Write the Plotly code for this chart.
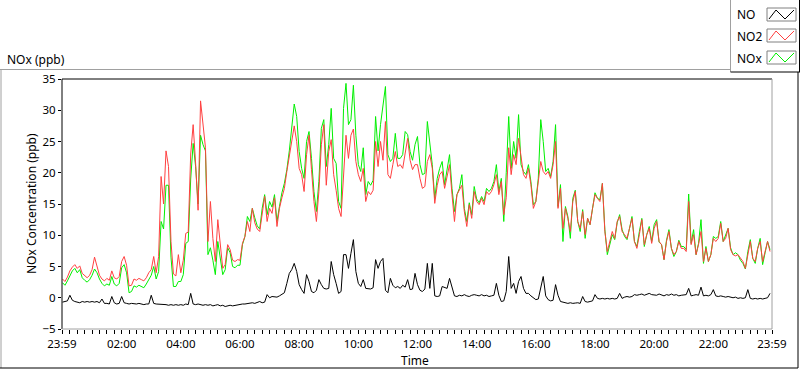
import plotly.graph_objects as go
import pandas as pd

# ---- data (5-minute samples, 00:00 .. 23:55) ----
start_time = "2000-01-01 00:00"
n_samples = 288

no2 = [
    3.0, 2.6, 3.3, 4.3, 4.9, 5.3, 4.7, 5.1, 3.9, 3.5, 3.2, 3.6,
    4.5, 6.5, 5.0, 3.6, 3.0, 2.7, 3.1, 2.8, 4.3, 3.2, 3.0, 3.4,
    5.8, 6.6, 5.2, 1.9, 2.0, 3.0, 2.8, 3.1, 2.9, 2.7, 3.2, 4.0,
    4.5, 6.6, 4.0, 6.6, 19.4, 15.0, 23.5, 21.0, 9.0, 3.8, 3.5, 6.9,
    4.0, 6.0, 10.3, 10.5, 23.0, 27.7, 21.5, 14.0, 31.5, 28.0, 24.0, 9.0,
    15.4, 9.5, 5.8, 12.5, 8.0, 4.7, 5.3, 8.5, 7.7, 6.0, 5.8, 6.1,
    6.0, 8.7, 9.8, 12.2, 10.6, 14.3, 12.0, 11.0, 10.6, 13.3, 16.2, 12.2,
    14.3, 13.5, 16.0, 11.4, 14.3, 16.0, 17.5, 20.2, 22.9, 25.5, 27.5, 25.0,
    20.7, 19.7, 17.0, 22.9, 26.0, 20.5, 15.4, 12.2, 17.0, 24.5, 27.7, 18.0,
    23.4, 25.3, 19.7, 17.2, 14.3, 13.0, 20.0, 26.0, 22.3, 26.0, 27.0, 21.8,
    19.7, 18.6, 20.7, 15.4, 17.0, 16.5, 17.2, 25.0, 21.0, 25.0, 22.0, 28.2,
    19.7, 19.1, 21.3, 23.4, 21.0, 21.3, 20.7, 22.9, 25.5, 22.0, 20.5, 21.3,
    21.3, 19.1, 17.5, 17.8, 21.8, 22.9, 20.7, 15.1, 18.0, 19.7, 20.2, 17.5,
    19.7, 21.3, 16.5, 12.2, 16.5, 17.2, 18.0, 13.8, 11.4, 14.9, 12.7, 17.0,
    15.4, 14.9, 15.9, 14.9, 17.0, 16.5, 17.0, 18.1, 19.7, 16.5, 18.6, 13.3,
    16.0, 24.0, 19.7, 22.9, 21.3, 25.5, 22.3, 19.7, 19.1, 20.7, 18.1, 14.3,
    15.4, 18.6, 21.8, 20.2, 19.7, 20.2, 19.1, 21.3, 25.0, 14.3, 17.5, 11.1,
    14.3, 12.7, 10.6, 15.4, 17.0, 12.2, 11.1, 13.8, 10.1, 12.7, 11.7, 14.3,
    16.5, 15.9, 15.4, 18.3, 10.6, 7.4, 9.0, 10.6, 9.5, 12.2, 13.0, 10.6,
    10.1, 9.5, 11.1, 12.7, 9.0, 7.9, 10.1, 12.5, 8.5, 10.1, 11.1, 8.7,
    11.1, 12.2, 9.0, 8.5, 6.1, 9.0, 10.6, 7.9, 6.9, 7.4, 9.0, 7.9,
    7.9, 7.4, 15.4, 8.5, 10.1, 6.9, 8.5, 10.6, 5.8, 7.9, 5.8, 6.9,
    9.5, 9.0, 9.5, 11.9, 9.0, 9.5, 11.1, 7.7, 6.9, 6.7, 6.9, 6.3,
    5.8, 4.7, 6.9, 9.0, 6.3, 5.8, 7.9, 9.0, 5.8, 7.4, 9.0, 7.4,
]

nox = [
    2.4, 2.0, 2.7, 3.6, 4.3, 4.7, 4.0, 4.5, 3.2, 2.8, 2.5, 2.9,
    3.6, 4.6, 4.0, 3.0, 2.3, 1.9, 2.2, 2.0, 3.4, 2.2, 1.9, 2.3,
    4.8, 5.3, 4.0, 0.8, 1.0, 1.9, 1.7, 2.0, 1.8, 1.6, 2.2, 3.0,
    3.6, 5.0, 3.0, 4.2, 12.2, 11.0, 18.0, 18.0, 6.5, 1.8, 1.8, 2.6,
    2.6, 3.7, 8.7, 9.0, 19.0, 24.7, 21.0, 15.0, 26.0, 24.5, 23.5, 6.9,
    8.0, 6.0, 3.7, 9.0, 6.0, 3.7, 4.5, 8.0, 7.2, 5.0, 4.8, 5.2,
    5.2, 8.5, 9.8, 13.0, 12.2, 14.3, 12.8, 11.5, 11.0, 14.3, 16.5, 13.3,
    15.4, 14.5, 16.5, 12.2, 14.6, 16.8, 18.3, 20.5, 23.5, 27.7, 31.0, 29.0,
    23.4, 20.7, 19.1, 25.0, 26.6, 22.3, 17.0, 13.8, 18.6, 27.1, 28.5, 21.0,
    24.5, 30.3, 22.3, 21.5, 15.4, 14.3, 30.3, 34.3, 27.7, 28.5, 34.0, 26.0,
    21.3, 20.2, 24.0, 16.5, 18.6, 18.0, 18.8, 29.0, 23.5, 27.7, 30.9, 33.8,
    22.9, 21.8, 22.3, 26.3, 22.3, 22.3, 22.9, 26.6, 26.1, 23.4, 22.0, 24.5,
    25.8, 21.3, 19.7, 19.9, 28.2, 25.0, 21.3, 15.9, 19.1, 20.7, 21.8, 18.1,
    20.2, 22.9, 17.5, 13.8, 16.5, 17.5, 19.7, 14.3, 12.2, 15.2, 13.3, 17.8,
    15.8, 15.2, 16.2, 15.4, 17.5, 17.0, 17.5, 18.6, 21.3, 17.0, 19.1, 12.2,
    20.0, 29.0, 20.7, 25.0, 22.3, 29.3, 21.3, 20.2, 19.7, 21.3, 18.6, 14.9,
    15.4, 19.1, 28.5, 25.0, 20.2, 20.7, 19.4, 21.8, 27.7, 14.6, 18.1, 9.0,
    14.6, 13.0, 9.5, 15.9, 17.2, 12.2, 10.6, 14.1, 9.5, 12.7, 11.7, 14.6,
    16.8, 15.9, 15.7, 18.3, 10.9, 6.9, 8.7, 10.1, 9.3, 12.0, 13.3, 10.9,
    9.8, 9.3, 11.1, 13.0, 9.0, 8.2, 10.6, 12.7, 8.2, 10.1, 11.4, 9.0,
    11.7, 12.5, 8.9, 8.5, 6.1, 9.2, 10.9, 7.9, 6.6, 7.4, 9.2, 8.2,
    8.2, 7.7, 16.6, 8.7, 10.9, 6.9, 8.7, 12.5, 5.5, 8.2, 5.8, 6.9,
    9.8, 9.5, 9.8, 12.2, 9.0, 10.0, 11.1, 8.0, 6.9, 7.2, 6.9, 6.0,
    5.5, 4.6, 7.4, 9.3, 6.3, 5.5, 7.9, 9.5, 5.3, 7.2, 9.0, 7.7,
]

no = [
    -0.7, -0.6, -0.5, 0.4, -0.4, -0.6, -0.7, -0.8, -0.6, -0.7, -0.6, -0.7,
    -0.6, -0.7, -0.6, -0.8, -0.2, -0.9, -0.9, -1.0, 0.2, -0.8, -1.0, -0.9,
    0.2, -0.8, -0.9, -1.0, -0.9, -1.0, -1.0, -0.9, -1.0, -1.1, -1.0, -1.0,
    0.4, -0.9, -1.0, -1.0, -1.1, -1.0, -1.1, -1.2, -1.1, -1.2, -1.1, -1.2,
    -1.1, -1.2, -1.0, -1.1, 0.7, -1.0, -1.1, -1.0, -1.1, -1.2, -1.1, -1.2,
    -1.1, -1.3, -1.2, -1.1, -1.3, -1.2, -1.4, -1.3, -1.2, -1.3, -1.2, -1.1,
    -1.1, -1.0, -1.0, -0.9, -0.8, -0.8, -0.9, -0.7, -0.6, -0.8, -0.7, 0.5,
    0.0, 0.2, 0.2, 0.1, 0.3, 0.5, 0.8, 2.3, 3.9, 4.5, 5.5, 4.2,
    2.1, 1.3, 0.7, 3.7, 2.6, 1.0, 0.8, 1.2, 2.9, 2.1, 1.5, 1.4,
    1.5, 5.8, 3.7, 2.3, 0.7, 1.0, 6.9, 6.9, 4.7, 7.1, 9.3, 4.2,
    2.3, 1.8, 2.9, 1.5, 1.5, 1.4, 1.6, 6.1, 4.7, 5.8, 6.3, 1.2,
    0.8, 3.1, 2.0, 1.6, 1.8, 1.5, 2.0, 1.7, 2.9, 1.3, 1.4, 3.9,
    2.1, 1.2, 1.0, 1.4, 5.5, 1.5, 5.5, 0.3, 0.2, 0.3, 1.8, 1.6,
    1.5, 3.1, 1.5, 0.3, 0.2, 0.4, 0.3, 0.5, 0.3, 0.2, 0.4, 0.5,
    0.4, 0.3, 0.5, 0.3, 0.4, 0.2, 0.3, 0.4, 2.3, 0.4, -0.6, -0.5,
    1.0, 6.6, 1.5, 2.3, 0.7, 2.6, 3.4, 1.5, 0.7, 0.7, 0.3, 0.0,
    -0.3, -0.2, 1.8, 3.4, 0.3, -0.3, -0.5, -0.4, 2.1, 0.4, -0.6, -0.7,
    -0.8, -0.9, -0.8, -0.9, -0.85, -0.8, -0.9, 0.2, -0.6, -0.7, -0.6, -0.5,
    0.5, -0.1, -0.2, -0.1, -0.2, -0.1, -0.2, -0.1, -0.2, -0.1, 0.7, -0.1,
    0.1, 0.2, 0.1, 0.2, 0.5, 0.4, 0.5, 0.6, 0.4, 0.5, 0.7, 0.5,
    0.5, 0.4, 0.6, 0.5, 0.3, 0.5, 0.4, 0.6, 0.4, 0.5, 0.3, 0.4,
    0.4, 0.5, 1.5, 0.3, 0.4, 0.5, 0.4, 1.7, 0.3, 0.4, 0.3, 0.5,
    1.3, 0.3, 0.2, 0.3, 0.2, 0.1, 0.2, 0.1, 0.0, 0.1, -0.1, 0.0,
    -0.1, 0.0, 1.3, -0.1, -0.2, -0.1, -0.2, -0.1, -0.2, -0.1, 0.0, 0.7,
]

x_tick_vals = ["1999-12-31 23:59", "2000-01-01 02:00", "2000-01-01 04:00", "2000-01-01 06:00",
               "2000-01-01 08:00", "2000-01-01 10:00", "2000-01-01 12:00", "2000-01-01 14:00",
               "2000-01-01 16:00", "2000-01-01 18:00", "2000-01-01 20:00", "2000-01-01 22:00",
               "2000-01-01 23:59"]
x_tick_text = ["23:59", "02:00", "04:00", "06:00", "08:00", "10:00", "12:00", "14:00",
               "16:00", "18:00", "20:00", "22:00", "23:59"]
y_tick_vals = [-5, 0, 5, 10, 15, 20, 25, 30, 35]

series_names = ["NO", "NO2", "NOx"]
series_colors = ["#000000", "#FF4040", "#00F000"]

times = pd.date_range(start_time, periods=n_samples, freq="5min")

# ---- geometry (pixels) ----
W, H = 800, 369
L, R, T, B = 62, 772, 79, 329
FONT = "Noto Sans"


def px(x):
    return (x - L) / (R - L)


def py(y):
    return (B - y) / (B - T)


fig = go.Figure()
fig.add_trace(go.Scatter(x=times, y=nox, mode="lines", name="NOx",
                         line=dict(color=series_colors[2], width=1)))
fig.add_trace(go.Scatter(x=times, y=no2, mode="lines", name="NO2",
                         line=dict(color=series_colors[1], width=1)))
fig.add_trace(go.Scatter(x=times, y=no, mode="lines", name="NO",
                         line=dict(color=series_colors[0], width=1)))

shapes = []


def line(x0, y0, x1, y1, color, width=1):
    shapes.append(dict(type="line", xref="paper", yref="paper",
                       x0=px(x0), y0=py(y0), x1=px(x1), y1=py(y1),
                       line=dict(color=color, width=width), layer="above"))


# outer frame
line(0, 69.5, 731, 69.5, "#A0A0A0")
line(1, 69.5, 1, 368, "#A0A0A0")
line(798, 72, 798, 368, "#000000")
line(0, 368, 798, 368, "#000000")
# plot border
line(L, T, R, T, "#000000")
line(L, T, L, B, "#000000")
line(R, T, R, B, "#A0A0A0")
line(L, B, R, B, "#A0A0A0")
# legend box
line(730.5, 0, 730.5, 72, "#A0A0A0")
line(730.5, 72, 800, 72, "#000000")
line(799.5, 0, 799.5, 72, "#000000")

annotations = []
label_y = [14, 36, 59]
box_y = [(8, 21), (29, 42), (51, 64)]
for name, col, ly, (b0, b1) in zip(series_names, series_colors, label_y, box_y):
    shapes.append(dict(type="rect", xref="paper", yref="paper",
                       x0=px(767), x1=px(796), y0=py(b1), y1=py(b0),
                       line=dict(color="#808080", width=1), fillcolor="white", layer="above"))
    path = "M {} {} L {} {} L {} {} L {} {}".format(
        px(769), py(b1 - 2), px(776), py(b0 + 2), px(785), py(b1 - 2), px(794), py(b0 + 2))
    shapes.append(dict(type="path", xref="paper", yref="paper", path=path,
                       line=dict(color=col, width=1), layer="above"))
    annotations.append(dict(text=name, xref="paper", yref="paper", x=px(735), y=py(ly),
                            xanchor="left", yanchor="middle", showarrow=False,
                            font=dict(family=FONT, size=12, color="#000000")))

annotations.append(dict(text="NOx (ppb)", xref="paper", yref="paper", x=px(5), y=py(60),
                        xanchor="left", yanchor="middle", showarrow=False,
                        font=dict(family=FONT, size=12, color="#000000")))
annotations.append(dict(text="NOx Concentration (ppb)", xref="paper", yref="paper",
                        x=px(31), y=py(204), xanchor="center", yanchor="middle",
                        textangle=-90, showarrow=False,
                        font=dict(family=FONT, size=12, color="#000000")))
annotations.append(dict(text="Time", xref="paper", yref="paper", x=px(415), y=py(360),
                        xanchor="center", yanchor="middle", showarrow=False,
                        font=dict(family=FONT, size=12, color="#000000")))

fig.update_layout(
    width=W, height=H,
    margin=dict(l=L, r=W - R, t=T, b=H - B),
    paper_bgcolor="white", plot_bgcolor="white",
    showlegend=False,
    shapes=shapes, annotations=annotations,
    font=dict(family=FONT, size=12, color="#000000"),
)
fig.update_xaxes(
    range=[x_tick_vals[0], x_tick_vals[-1]],
    tickmode="array", tickvals=x_tick_vals, ticktext=x_tick_text,
    ticks="outside", ticklen=4, tickcolor="#000000",
    showgrid=False, zeroline=False, showline=False,
    tickfont=dict(family=FONT, size=11.5, color="#000000"),
    minor=dict(ticks="outside", ticklen=4, tickcolor="#000000",
               tick0="2000-01-01 00:00", dtick=15 * 60 * 1000, showgrid=False),
)
fig.update_yaxes(
    range=[-5, 35], tickmode="array", tickvals=y_tick_vals,
    ticks="outside", ticklen=3, tickcolor="#000000",
    showgrid=False, zeroline=False, showline=False,
    tickfont=dict(family=FONT, size=11.5, color="#000000"),
)

fig.write_html("out.html", config={"displayModeBar": False},
               post_script="document.body.style.margin='0';document.body.style.overflow='hidden';")
